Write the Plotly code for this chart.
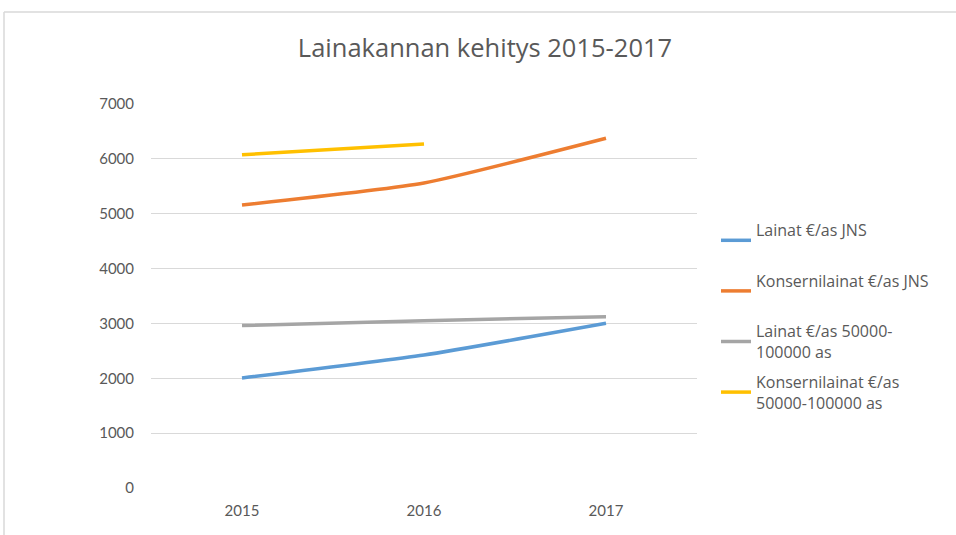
import plotly.graph_objects as go

years = ["2015", "2016", "2017"]

lainat_jns = [2005, 2424, 3003]
konserni_jns = [5159, 5560, 6375]
lainat_50k = [2960, 3050, 3123]
konserni_50k = [6075, 6270, None]

# every legend entry is two lines tall so the entries sit evenly spaced
series = [
    ("Lainat €/as JNS<br> ", lainat_jns, "#5b9bd5"),
    ("Konsernilainat €/as JNS<br> ", konserni_jns, "#ed7d31"),
    ("Lainat €/as 50000-<br>100000 as", lainat_50k, "#a5a5a5"),
    ("Konsernilainat €/as<br>50000-100000 as", konserni_50k, "#ffc000"),
]

y_ticks = [0, 1000, 2000, 3000, 4000, 5000, 6000, 7000]

W, H = 956, 535
L, R, T, B = 151, 697, 104, 488


def px_x(p):
    return (p - L) / (R - L)


def px_y(p):
    return (B - p) / (B - T)


fig = go.Figure()
for i, (name, vals, color) in enumerate(series):
    fig.add_trace(go.Scatter(
        x=years, y=vals, name=name, mode="lines",
        line=dict(color=color, width=3.5, shape="spline", smoothing=0.5),
        legendgroup=f"g{i}",
    ))

text_color = "#595959"
tick_font = "Lato, 'Open Sans', sans-serif"
label_font = "'Open Sans', Lato, sans-serif"

fig.update_layout(
    width=W, height=H,
    margin=dict(l=L, r=W - R, t=T, b=H - B, autoexpand=False),
    paper_bgcolor="white", plot_bgcolor="white",
    font=dict(family=tick_font, size=15, color=text_color),
    title=dict(text="Lainakannan kehitys 2015-2017", x=px_x(485), xref="paper",
               xanchor="center", y=1 - 48 / H, yanchor="middle",
               font=dict(size=25.5, color=text_color, family=label_font)),
    xaxis=dict(type="category", range=[-0.5, 2.5], showgrid=False,
               showline=False, zeroline=False, ticks="",
               tickfont=dict(size=15, color=text_color), ticklabelstandoff=12),
    yaxis=dict(range=[0, 7000], tickvals=y_ticks, showgrid=True,
               gridcolor="#d9d9d9", gridwidth=1, zeroline=False,
               showline=False, ticks="",
               tickfont=dict(size=15, color=text_color), ticklabelstandoff=16),
    legend=dict(x=px_x(716), y=px_y(213), xanchor="left", yanchor="top",
                font=dict(size=16, color=text_color, family=label_font),
                tracegroupgap=6, itemwidth=30, bgcolor="rgba(0,0,0,0)"),
    shapes=[
        dict(type="line", xref="paper", yref="paper",
             x0=px_x(4), x1=px_x(960), y0=px_y(12), y1=px_y(12),
             line=dict(color="#d9d9d9", width=1.5)),
        dict(type="line", xref="paper", yref="paper",
             x0=px_x(4), x1=px_x(4), y0=px_y(12), y1=px_y(540),
             line=dict(color="#d9d9d9", width=1.5)),
    ],
)

fig.write_html("out.html")
